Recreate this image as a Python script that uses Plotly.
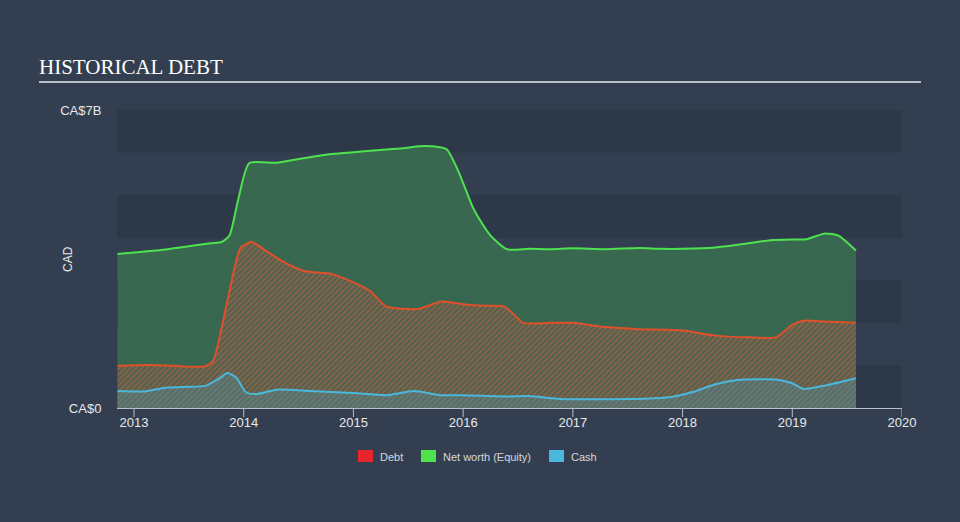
import plotly.graph_objects as go

# Data (CAD billions), dates as decimal years
nw_x = [2012.85, 2013.2, 2013.5, 2013.7, 2013.8, 2013.87, 2013.95, 2014.05, 2014.3, 2014.5, 2014.75, 2015.0, 2015.25, 2015.45, 2015.6, 2015.75, 2015.85, 2015.95, 2016.1, 2016.25, 2016.4, 2016.6, 2016.8, 2017.0, 2017.3, 2017.6, 2017.8, 2018.0, 2018.3, 2018.55, 2018.8, 2019.0, 2019.12, 2019.3, 2019.42, 2019.58]
nw_y = [3.62, 3.70, 3.80, 3.87, 3.90, 4.05, 4.90, 5.75, 5.76, 5.85, 5.95, 6.01, 6.06, 6.10, 6.15, 6.14, 6.08, 5.60, 4.65, 4.05, 3.73, 3.74, 3.73, 3.75, 3.73, 3.76, 3.74, 3.74, 3.77, 3.85, 3.94, 3.96, 3.96, 4.10, 4.05, 3.70]

debt_x = [2012.85, 2013.1, 2013.3, 2013.5, 2013.65, 2013.72, 2013.85, 2013.97, 2014.07, 2014.2, 2014.35, 2014.55, 2014.8, 2015.0, 2015.15, 2015.3, 2015.45, 2015.6, 2015.8, 2016.0, 2016.2, 2016.38, 2016.55, 2016.8, 2017.0, 2017.3, 2017.6, 2018.0, 2018.3, 2018.6, 2018.85, 2019.0, 2019.1, 2019.3, 2019.58]
debt_y = [0.99, 1.01, 1.00, 0.97, 0.98, 1.10, 2.50, 3.75, 3.90, 3.70, 3.45, 3.22, 3.15, 2.95, 2.75, 2.38, 2.33, 2.33, 2.50, 2.44, 2.40, 2.38, 2.00, 2.00, 2.00, 1.90, 1.85, 1.82, 1.70, 1.66, 1.66, 1.95, 2.05, 2.03, 2.00]

cash_x = [2012.85, 2013.1, 2013.3, 2013.5, 2013.65, 2013.78, 2013.85, 2013.93, 2014.02, 2014.12, 2014.3, 2014.6, 2015.0, 2015.3, 2015.55, 2015.8, 2016.0, 2016.4, 2016.6, 2016.9, 2017.5, 2017.9, 2018.1, 2018.3, 2018.5, 2018.85, 2019.0, 2019.1, 2019.3, 2019.58]
cash_y = [0.40, 0.39, 0.48, 0.50, 0.52, 0.70, 0.82, 0.72, 0.37, 0.33, 0.43, 0.40, 0.35, 0.30, 0.40, 0.30, 0.30, 0.27, 0.28, 0.21, 0.21, 0.26, 0.38, 0.56, 0.66, 0.67, 0.58, 0.45, 0.53, 0.70]

x_ticks = [2013, 2014, 2015, 2016, 2017, 2018, 2019, 2020]
y_ticks = [0, 7]
y_tick_labels = ["CA$0", "CA$7B"]

legend_names = ["Debt", "Net worth (Equity)", "Cash"]
legend_colors = ["#e8262a", "#4ee24e", "#4ab8dc"]

BG = "#333f50"
BAND = "#2d3949"
AXIS = "#b9bfc7"
TXT = "#e6e8eb"

# plot area in pixels
PL, PR, PT, PB = 117, 902, 110, 408
W, H = PR - PL, PB - PT


def px(x):
    return (x - PL) / W


def py(y):
    return (PB - y) / H


fig = go.Figure()

fig.add_trace(go.Scatter(
    x=nw_x, y=nw_y, mode="lines", name="Net worth (Equity)",
    line=dict(color="#4ee24e", width=2, shape="spline", smoothing=0.6),
    fill="tozeroy", fillcolor="rgba(60,120,80,0.72)", showlegend=False,
))
fig.add_trace(go.Scatter(
    x=debt_x, y=debt_y, mode="lines", name="Debt",
    line=dict(color="#e0502a", width=2, shape="spline", smoothing=0.6),
    fill="tozeroy", fillcolor="rgba(0,0,0,0)",
    fillpattern=dict(shape="/", fgcolor="#c8673e", bgcolor="rgba(85,95,80,0.85)", size=4, solidity=0.45),
    showlegend=False,
))
fig.add_trace(go.Scatter(
    x=cash_x, y=cash_y, mode="lines", name="Cash",
    line=dict(color="#4ab8dc", width=2, shape="spline", smoothing=0.6),
    fill="tozeroy", fillcolor="rgba(0,0,0,0)",
    fillpattern=dict(shape="/", fgcolor="#6e8a84", bgcolor="rgba(90,110,105,0.9)", size=4, solidity=0.45),
    showlegend=False,
))

shapes = []
for b in [0, 2, 4, 6]:
    shapes.append(dict(type="rect", xref="paper", yref="y", x0=0, x1=1, y0=b, y1=b + 1,
                       fillcolor=BAND, line=dict(width=0), layer="below"))
# title underline
shapes.append(dict(type="line", xref="paper", yref="paper", x0=px(39), x1=px(921), y0=py(82), y1=py(82),
                   line=dict(color=AXIS, width=2)))
# x tick marks
for t in x_ticks:
    shapes.append(dict(type="line", xref="x", yref="paper", x0=t, x1=t, y0=0, y1=py(417),
                       line=dict(color=AXIS, width=1)))

annotations = [
    dict(text="CAD", xref="paper", yref="paper", x=px(68), y=py(259), showarrow=False, textangle=-90,
         font=dict(family="Liberation Sans", size=12, color=TXT), xanchor="center", yanchor="middle"),
]

# manual legend
leg_rect_x = [358, 421, 549]
leg_text_x = [378, 441, 569]
for name, col, rx, tx in zip(legend_names, legend_colors, leg_rect_x, leg_text_x):
    shapes.append(dict(type="rect", xref="paper", yref="paper", x0=px(rx), x1=px(rx + 15),
                       y0=py(462), y1=py(450), fillcolor=col, line=dict(width=0)))
    annotations.append(dict(text=name, xref="paper", yref="paper", x=px(tx), y=py(456.5), showarrow=False,
                            xanchor="left", yanchor="middle",
                            font=dict(family="Liberation Sans", size=11, color="#d4d8dd")))

fig.update_layout(
    width=960, height=522,
    paper_bgcolor=BG, plot_bgcolor=BG,
    margin=dict(l=PL, r=960 - PR, t=PT, b=522 - PB),
    shapes=shapes, annotations=annotations, showlegend=False,
    title=dict(text="HISTORICAL DEBT", x=39 / 960, xanchor="left", y=1 - 67 / 522, yanchor="middle",
               font=dict(family="Liberation Serif", size=21, color="#ffffff")),
    xaxis=dict(range=[2012.845, 2020.0], tickvals=x_ticks, ticktext=[str(t) for t in x_ticks],
               showgrid=False, zeroline=False, showline=True, linecolor=AXIS, linewidth=1,
               ticks="outside", ticklen=2, tickcolor="rgba(0,0,0,0)",
               tickfont=dict(family="Liberation Sans", size=13, color=TXT)),
    yaxis=dict(range=[0, 7], tickvals=y_ticks, ticktext=y_tick_labels, showgrid=False, zeroline=False,
               ticks="outside", ticklen=12, tickcolor="rgba(0,0,0,0)",
               tickfont=dict(family="Liberation Sans", size=13, color=TXT)),
)

fig.write_html("out.html")
